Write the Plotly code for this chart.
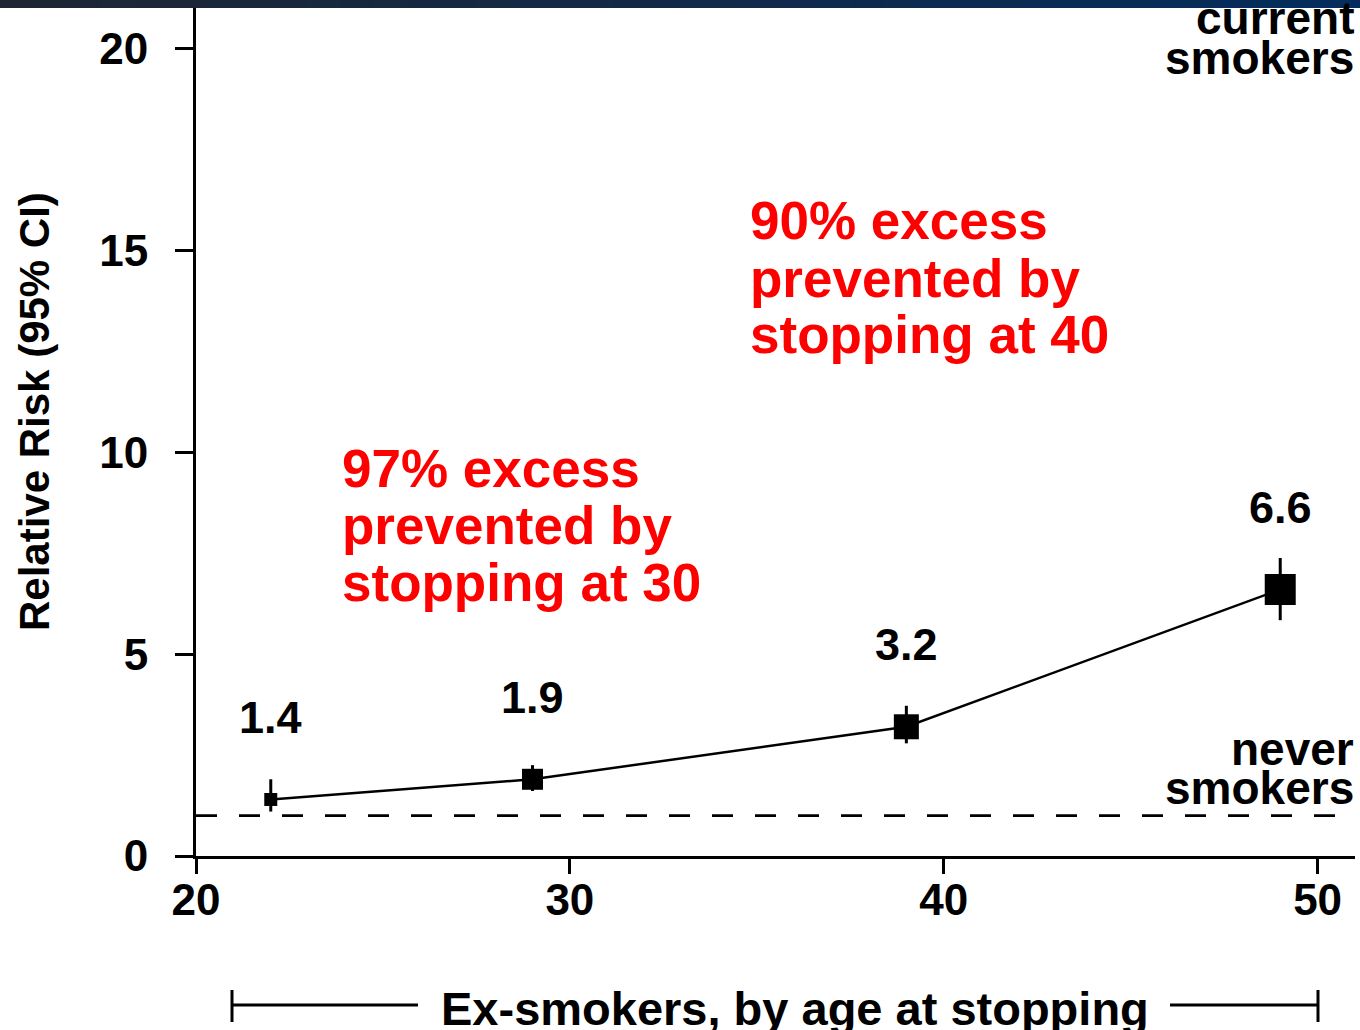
import plotly.graph_objects as go

# ---------------- data ----------------
ages_at_stopping = [22, 29, 39, 49]
relative_risk = [1.4, 1.9, 3.2, 6.6]
ci_upper = [1.9, 2.25, 3.72, 7.38]
ci_lower = [1.1, 1.61, 2.79, 5.84]
marker_sizes = [13, 21, 25, 31]
never_smokers_rr = 1.0
x_ticks = [20, 30, 40, 50]
y_ticks = [0, 5, 10, 15, 20]

# ---------------- layout geometry (pixels) ----------------
W, H = 1360, 1030
L, R, T, B = 196, 5, 8, 174
PW, PH = W - L - R, H - T - B


def px(xp):
    return (xp - L) / PW


def py(yp):
    return (H - B - yp) / PH


FONT = "Liberation Sans, Arial, Helvetica, sans-serif"
BLACK = "#000000"
RED = "#ff0000"

err_plus = [u - v for u, v in zip(ci_upper, relative_risk)]
err_minus = [v - lo for v, lo in zip(relative_risk, ci_lower)]

fig = go.Figure()
fig.add_trace(go.Scatter(
    x=ages_at_stopping, y=relative_risk,
    mode="lines+markers",
    line=dict(color=BLACK, width=2.5),
    marker=dict(symbol="square", size=marker_sizes, color=BLACK, opacity=1, line=dict(width=0)),
    error_y=dict(type="data", symmetric=False, array=err_plus, arrayminus=err_minus,
                 color=BLACK, thickness=3, width=0),
    showlegend=False, hoverinfo="skip", cliponaxis=False,
))

shapes = []
# never smokers reference line
shapes.append(dict(type="line", xref="paper", yref="y", x0=0, x1=1,
                   y0=never_smokers_rr, y1=never_smokers_rr,
                   line=dict(color=BLACK, width=2.8, dash="21px,22px"), layer="below"))

# top dark gradient bar
c0 = (30, 38, 52)
c1 = (4, 45, 92)
n = 40
x_start, x_end = px(0), px(W)
for i in range(n):
    t = i / (n - 1)
    col = tuple(int(round(a + (b - a) * t)) for a, b in zip(c0, c1))
    shapes.append(dict(type="rect", xref="paper", yref="paper",
                       x0=x_start + (x_end - x_start) * i / n,
                       x1=x_start + (x_end - x_start) * (i + 1) / n + 0.001,
                       y0=py(8), y1=py(-2),
                       fillcolor="rgb(%d,%d,%d)" % col, line=dict(width=0), layer="above"))

# bottom bracket
by = py(1005)
shapes += [
    dict(type="line", xref="paper", yref="paper", x0=px(232), x1=px(418), y0=by, y1=by,
         line=dict(color=BLACK, width=3)),
    dict(type="line", xref="paper", yref="paper", x0=px(1170), x1=px(1318), y0=by, y1=by,
         line=dict(color=BLACK, width=3)),
    dict(type="line", xref="paper", yref="paper", x0=px(232), x1=px(232), y0=py(990), y1=py(1022),
         line=dict(color=BLACK, width=3)),
    dict(type="line", xref="paper", yref="paper", x0=px(1318), x1=px(1318), y0=py(990), y1=py(1022),
         line=dict(color=BLACK, width=3)),
]

annotations = []
# data labels above points
for xa, ya in zip(ages_at_stopping, relative_risk):
    annotations.append(dict(x=xa, y=ya, xref="x", yref="y", text=f"{ya:.1f}", showarrow=False,
                            yshift=82, xanchor="center", yanchor="middle",
                            font=dict(family=FONT, size=45, color=BLACK, weight="bold")))


def add_line(text, xp, yp, anchor, size, color):
    annotations.append(dict(x=px(xp), y=py(yp), xref="paper", yref="paper", text=text,
                            showarrow=False, xanchor=anchor, yanchor="middle",
                            font=dict(family=FONT, size=size, color=color, weight="bold")))


# red annotations
for i, s in enumerate(["97% excess", "prevented by", "stopping at 30"]):
    add_line(s, 340, 468 + 57 * i, "left", 53, RED)
for i, s in enumerate(["90% excess", "prevented by", "stopping at 40"]):
    add_line(s, 748, 221 + 57 * i, "left", 53, RED)

# side labels
add_line("current", 1356, 18, "right", 46, BLACK)
add_line("smokers", 1356, 58, "right", 46, BLACK)
add_line("never", 1356, 749, "right", 46, BLACK)
add_line("smokers", 1356, 788, "right", 46, BLACK)

# bottom caption
add_line("Ex-smokers, by age at stopping", 795, 1008, "center", 47, BLACK)

# y axis title
annotations.append(dict(x=px(35), y=py(412), xref="paper", yref="paper",
                        text="Relative Risk (95% CI)", textangle=-90, showarrow=False,
                        xanchor="center", yanchor="middle",
                        font=dict(family=FONT, size=42, color=BLACK, weight="bold")))

fig.update_layout(
    width=W, height=H,
    margin=dict(l=L, r=R, t=T, b=B, pad=0),
    paper_bgcolor="white", plot_bgcolor="white",
    shapes=shapes, annotations=annotations,
    xaxis=dict(range=[20, 51], tickvals=x_ticks, ticktext=[str(v) for v in x_ticks],
               showgrid=False, zeroline=False, showline=True, linecolor=BLACK, linewidth=3,
               ticks="outside", ticklen=15, tickwidth=3, tickcolor=BLACK,
               tickfont=dict(family=FONT, size=44, color=BLACK, weight="bold"),
               ticklabelstandoff=-12, fixedrange=True),
    yaxis=dict(range=[0, 21], tickvals=y_ticks, ticktext=[str(v) for v in y_ticks],
               showgrid=False, zeroline=False, showline=True, linecolor=BLACK, linewidth=3,
               ticks="outside", ticklen=18, tickwidth=3, tickcolor=BLACK,
               tickfont=dict(family=FONT, size=44, color=BLACK, weight="bold"),
               ticklabelstandoff=18, fixedrange=True),
)

fig.write_html("out.html", config={"displayModeBar": False},
               post_script="document.body.style.margin='0';document.body.style.overflow='hidden';")
